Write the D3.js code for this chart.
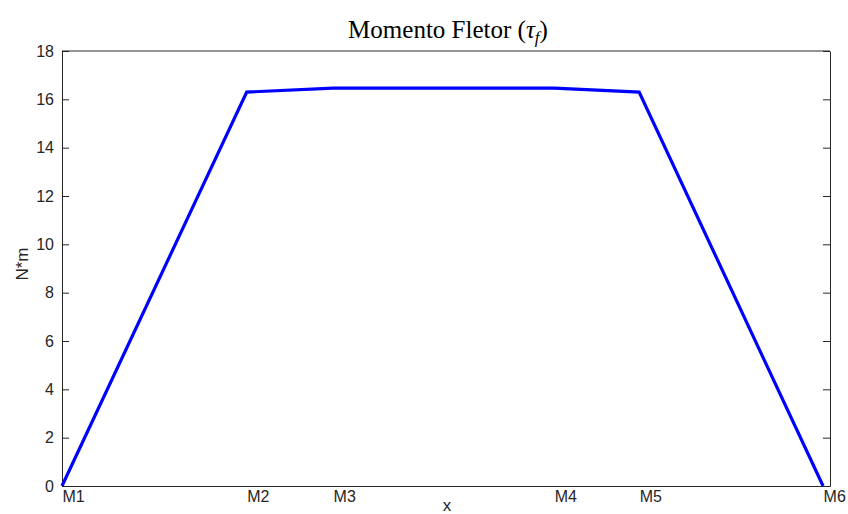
<!DOCTYPE html>
<html><head><meta charset="utf-8">
<script src="https://cdn.jsdelivr.net/npm/d3@7"></script>
<style>body{margin:0;background:#fff}</style>
</head><body>
<script>
const categories = ["M1","M2","M3","M4","M5","M6"];
const xPositions = [0, 0.2405, 0.353, 0.641, 0.7515, 0.991];
const moments = [0, 16.30, 16.46, 16.46, 16.30, 0];
const yTicks = [0,2,4,6,8,10,12,14,16,18];

const W = 848, H = 514;
const m = {left:62, right:18, top:51, bottom:28};
const svg = d3.select("body").append("svg").attr("width",W).attr("height",H);
const x = d3.scaleLinear().domain([0,1]).range([m.left, W-m.right]);
const y = d3.scaleLinear().domain([0,18]).range([H-m.bottom, m.top]);
const axisColor = "#262626";
const font = "Liberation Sans, Arial, sans-serif";

const gl = svg.append("g").attr("transform",`translate(${m.left},0)`)
  .call(d3.axisLeft(y).tickValues(yTicks).tickSizeInner(-7).tickSizeOuter(0).tickPadding(8));
const gr = svg.append("g").attr("transform",`translate(${W-m.right},0)`)
  .call(d3.axisRight(y).tickValues(yTicks).tickSizeInner(-7).tickSizeOuter(0).tickFormat(""));
const gb = svg.append("g").attr("transform",`translate(0,${H-m.bottom})`)
  .call(d3.axisBottom(x).tickValues(xPositions).tickSize(0).tickSizeOuter(0).tickPadding(3)
        .tickFormat((d,i)=>categories[i]));
gb.selectAll("text").attr("text-anchor","start");
svg.append("line").attr("x1",m.left).attr("x2",W-m.right).attr("y1",m.top).attr("y2",m.top)
  .attr("stroke",axisColor).attr("stroke-width",1);
[gl,gr,gb].forEach(g=>{
  g.selectAll("path").attr("stroke",axisColor).attr("stroke-width",1);
  g.selectAll("line").attr("stroke",axisColor);
  g.selectAll("text").attr("fill",axisColor).attr("font-family",font).attr("font-size",16);
});
gb.selectAll("text").attr("dy","0.82em");

svg.append("path").datum(d3.range(categories.length))
  .attr("fill","none").attr("stroke","#0000ff").attr("stroke-width",3.2).attr("stroke-linejoin","miter")
  .attr("d", d3.line().x(i=>x(xPositions[i])).y(i=>y(moments[i])));

svg.append("text").attr("x",447).attr("y",511).attr("text-anchor","middle")
  .attr("font-family",font).attr("font-size",17).attr("fill",axisColor).text("x");
svg.append("text").attr("transform","translate(28,264) rotate(-90)").attr("text-anchor","middle")
  .attr("font-family",font).attr("font-size",17).attr("fill",axisColor).text("N*m");
const t = svg.append("text").attr("x",448).attr("y",38).attr("text-anchor","middle")
  .attr("font-family","Liberation Serif, DejaVu Serif, serif").attr("font-size",25).attr("fill","#000");
t.append("tspan").text("Momento Fletor (");
t.append("tspan").attr("font-style","italic").text("τ");
t.append("tspan").attr("font-style","italic").attr("font-size",17).attr("dy",5).text("f");
t.append("tspan").attr("dy",-5).text(")");
</script>
</body></html>
